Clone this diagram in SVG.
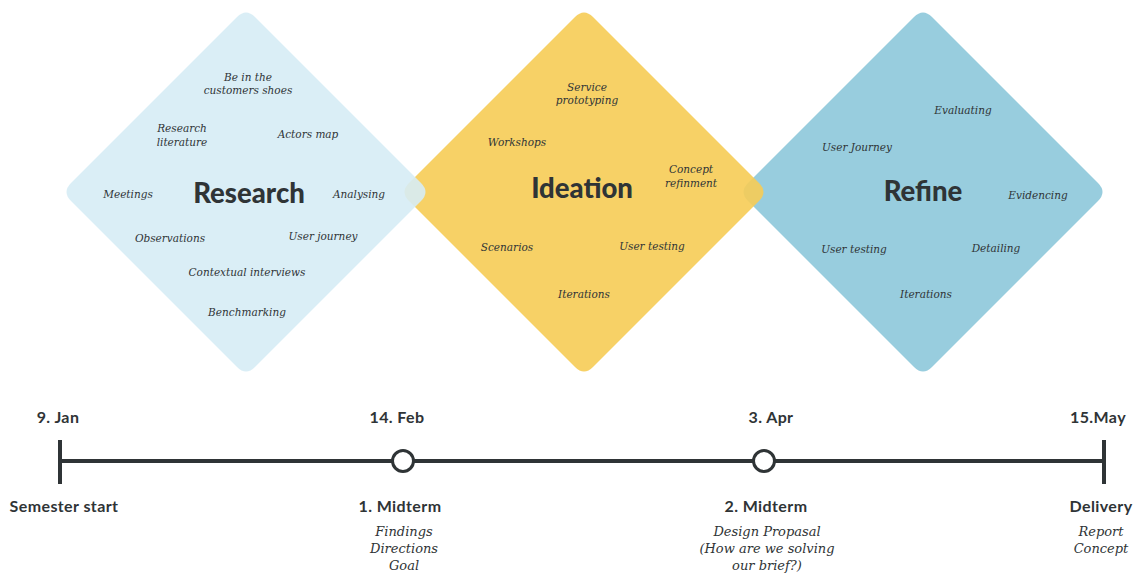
<svg xmlns="http://www.w3.org/2000/svg" width="1137" height="573" viewBox="0 0 1137 573">
<style>
.t{font-family:Lato,"Liberation Sans",sans-serif;font-weight:700;fill:#2f3436;text-anchor:middle}
.title{font-size:27.5px;font-weight:900}
.lab{font-size:16px;letter-spacing:0.4px}
.i{font-family:"DejaVu Serif","Liberation Serif",serif;font-style:italic;fill:#2f3436;text-anchor:middle;font-size:10.5px}
.s{font-size:13px}
.line{stroke:#2f3436;stroke-width:4;fill:none}
</style>
<defs>
<path id="dia" d="M -9,-175 Q 0,-184 9,-175 L 175,-9 Q 184,0 175,9 L 9,175 Q 0,184 -9,175 L -175,9 Q -184,0 -175,-9 Z"/>
</defs>
<g id="refine">
<use href="#dia" transform="translate(923,192)" fill="#98cdde"/>
<text class="t title" x="923" y="201">Refine</text>
<text class="i" x="963" y="114">Evaluating</text>
<text class="i" x="857" y="151">User Journey</text>
<text class="i" x="1038" y="199">Evidencing</text>
<text class="i" x="854" y="253">User testing</text>
<text class="i" x="996" y="252">Detailing</text>
<text class="i" x="926" y="298">Iterations</text>
</g>
<g id="ideation">
<use href="#dia" transform="translate(584,192)" fill="#f6cc55" fill-opacity="0.9"/>
<text class="t title" x="582" y="198">Ideation</text>
<text class="i" x="587" y="91">Service</text>
<text class="i" x="587" y="104">prototyping</text>
<text class="i" x="517" y="146">Workshops</text>
<text class="i" x="691" y="173">Concept</text>
<text class="i" x="691" y="187">refinment</text>
<text class="i" x="507" y="251">Scenarios</text>
<text class="i" x="652" y="250">User testing</text>
<text class="i" x="584" y="298">Iterations</text>
</g>
<g id="research">
<use href="#dia" transform="translate(246,192)" fill="#d6ecf5" fill-opacity="0.9"/>
<text class="t title" x="249" y="203">Research</text>
<text class="i" x="248" y="81">Be in the</text>
<text class="i" x="248" y="94">customers shoes</text>
<text class="i" x="182" y="132">Research</text>
<text class="i" x="182" y="146">literature</text>
<text class="i" x="308" y="138">Actors map</text>
<text class="i" x="128" y="198">Meetings</text>
<text class="i" x="359" y="198">Analysing</text>
<text class="i" x="170" y="242">Observations</text>
<text class="i" x="323" y="240">User journey</text>
<text class="i" x="247" y="276">Contextual interviews</text>
<text class="i" x="247" y="316">Benchmarking</text>
</g>
<g id="connectors">
<line class="line" x1="60" y1="461" x2="1104" y2="461"/>
<line class="line" x1="60" y1="440" x2="60" y2="484"/>
<line class="line" x1="1104" y1="440" x2="1104" y2="484"/>
</g>
<g id="m-start">
<text class="t lab" x="58" y="423">9. Jan</text>
<text class="t lab" x="64" y="512">Semester start</text>
</g>
<g id="m-mid1">
<circle cx="403" cy="461" r="10.5" fill="#fff" stroke="#2f3436" stroke-width="3"/>
<text class="t lab" x="397" y="423">14. Feb</text>
<text class="t lab" x="400" y="512">1. Midterm</text>
<text class="i s" x="404" y="536">Findings</text>
<text class="i s" x="404" y="553">Directions</text>
<text class="i s" x="404" y="570">Goal</text>
</g>
<g id="m-mid2">
<circle cx="764" cy="461" r="10.5" fill="#fff" stroke="#2f3436" stroke-width="3"/>
<text class="t lab" x="771" y="423">3. Apr</text>
<text class="t lab" x="766" y="512">2. Midterm</text>
<text class="i s" x="767" y="536">Design Propasal</text>
<text class="i s" x="767" y="553">(How are we solving</text>
<text class="i s" x="767" y="570">our brief?)</text>
</g>
<g id="m-end">
<text class="t lab" x="1098" y="423">15.May</text>
<text class="t lab" x="1101" y="512">Delivery</text>
<text class="i s" x="1101" y="536">Report</text>
<text class="i s" x="1101" y="553">Concept</text>
</g>
</svg>
